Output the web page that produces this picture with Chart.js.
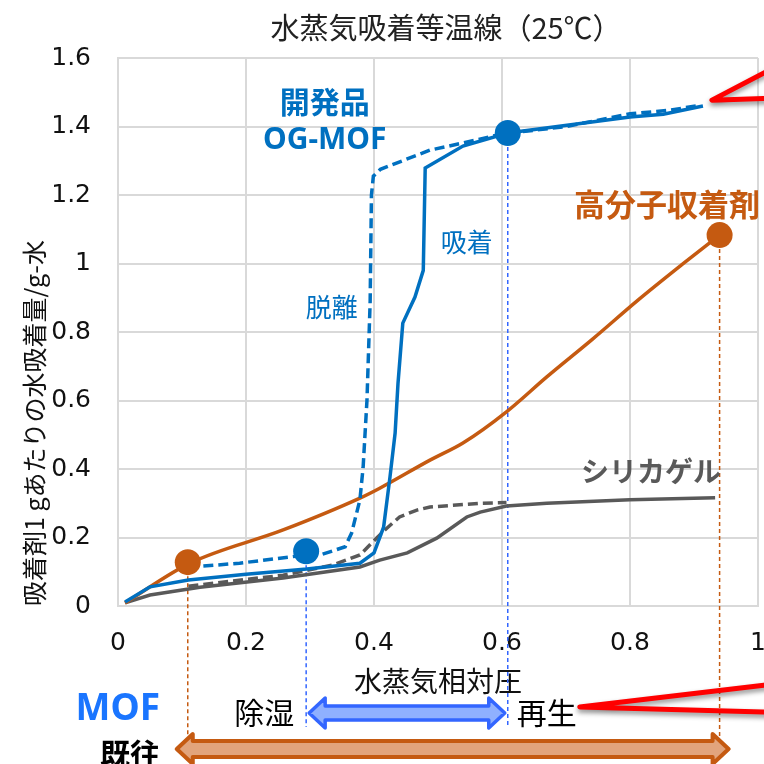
<!DOCTYPE html>
<html>
<head>
<meta charset="utf-8">
<style>
  html, body { margin: 0; padding: 0; background: #fff; overflow: hidden; }
  #wrap { width: 800px; height: 764px; }
</style>
<script src="https://cdn.jsdelivr.net/npm/chart.js@4/dist/chart.umd.min.js"></script>
</head>
<body>
<div id="wrap"><canvas id="chart" width="800" height="764"></canvas></div>
<script>
const JP = '"Noto Sans CJK JP", sans-serif';
const NUM = '"DejaVu Sans", sans-serif';

// OG-MOF 吸着（実線）
const mofAdsX = [0.011, 0.05, 0.11, 0.20, 0.295, 0.378, 0.40, 0.415, 0.425, 0.433, 0.4375, 0.445, 0.464, 0.477, 0.48, 0.539, 0.609, 0.80, 0.852, 0.914];
const mofAdsY = [0.012, 0.056, 0.076, 0.093, 0.108, 0.125, 0.155, 0.23, 0.377, 0.505, 0.65, 0.826, 0.902, 0.98, 1.279, 1.343, 1.381, 1.428, 1.436, 1.46];
// OG-MOF 脱離（破線）
const mofDesX = [0.11, 0.19, 0.29, 0.316, 0.355, 0.365, 0.378, 0.383, 0.389, 0.394, 0.396, 0.399, 0.41, 0.4875, 0.539, 0.60, 0.70, 0.80, 0.86, 0.91];
const mofDesY = [0.113, 0.125, 0.148, 0.149, 0.173, 0.213, 0.31, 0.405, 0.60, 0.89, 1.2, 1.255, 1.275, 1.331, 1.352, 1.378, 1.40, 1.437, 1.447, 1.462];
// 高分子収着剤
const polyX = [0.011, 0.1125, 0.258, 0.378, 0.409, 0.4875, 0.539, 0.607, 0.67, 0.742, 0.8125, 0.88, 0.94];
const polyY = [0.009, 0.125, 0.222, 0.315, 0.344, 0.426, 0.476, 0.567, 0.669, 0.78, 0.893, 0.995, 1.083];
// シリカゲル 吸着（実線）
const silAdsX = [0.011, 0.05, 0.128, 0.258, 0.378, 0.409, 0.452, 0.498, 0.545, 0.566, 0.607, 0.67, 0.80, 0.933];
const silAdsY = [0.009, 0.032, 0.055, 0.082, 0.114, 0.134, 0.155, 0.198, 0.26, 0.274, 0.292, 0.30, 0.31, 0.316];
// シリカゲル 脱離（破線）
const silDesX = [0.11, 0.258, 0.336, 0.378, 0.405, 0.417, 0.44, 0.467, 0.4875, 0.566, 0.607];
const silDesY = [0.058, 0.09, 0.12, 0.149, 0.20, 0.222, 0.26, 0.28, 0.289, 0.30, 0.302];
// 運転点（除湿・再生）
const mofPtX = [0.294, 0.609];
const mofPtY = [0.16, 1.381];
const polyPtX = [0.109, 0.94];
const polyPtY = [0.128, 1.083];

const xTicks = [0, 0.2, 0.4, 0.6, 0.8, 1];
const yTicks = [0, 0.2, 0.4, 0.6, 0.8, 1, 1.2, 1.4, 1.6];

const BLUE = '#0070C0';
const ORANGE = '#C55A11';
const GRAY = '#595959';

const pts = (xs, ys) => xs.map((x, i) => ({ x: x, y: ys[i] }));

// 図中の文字ラベル（データ座標）
const labels = [
  { text: '開発品', x: 0.323, y: 1.474, color: BLUE, font: 'bold 30px ' + JP },
  { text: 'OG-MOF', x: 0.323, y: 1.36, color: BLUE, font: 'bold 30px "Noto Sans", sans-serif' },
  { text: '脱離', x: 0.334, y: 0.873, color: BLUE, font: '26px ' + JP },
  { text: '吸着', x: 0.545, y: 1.063, color: BLUE, font: '26px ' + JP },
  { text: '高分子収着剤', x: 0.858, y: 1.174, color: ORANGE, font: 'bold 31px ' + JP },
  { text: 'シリカゲル', x: 0.833, y: 0.394, color: GRAY, font: 'bold 28px ' + JP }
];

function doubleArrow(ctx, x1, x2, y, shaftH, headH, headL, fill, stroke, lw) {
  ctx.beginPath();
  ctx.moveTo(x1, y);
  ctx.lineTo(x1 + headL, y - headH / 2);
  ctx.lineTo(x1 + headL, y - shaftH / 2);
  ctx.lineTo(x2 - headL, y - shaftH / 2);
  ctx.lineTo(x2 - headL, y - headH / 2);
  ctx.lineTo(x2, y);
  ctx.lineTo(x2 - headL, y + headH / 2);
  ctx.lineTo(x2 - headL, y + shaftH / 2);
  ctx.lineTo(x1 + headL, y + shaftH / 2);
  ctx.lineTo(x1 + headL, y + headH / 2);
  ctx.closePath();
  ctx.fillStyle = fill;
  ctx.fill();
  ctx.lineJoin = 'round';
  ctx.lineWidth = lw;
  ctx.strokeStyle = stroke;
  ctx.stroke();
}

function callout(ctx, tx, ty, ux, uy, lx, ly) {
  ctx.save();
  ctx.shadowColor = 'rgba(0,0,0,0.45)';
  ctx.shadowBlur = 5;
  ctx.shadowOffsetY = 3;
  ctx.strokeStyle = '#FF0000';
  ctx.lineWidth = 5;
  ctx.lineCap = 'round';
  ctx.lineJoin = 'round';
  ctx.beginPath();
  ctx.moveTo(ux, uy);
  ctx.lineTo(tx, ty);
  ctx.lineTo(lx, ly);
  ctx.stroke();
  ctx.restore();
}

const extras = {
  id: 'extras',
  beforeDatasetsDraw(chart) {
    const ctx = chart.ctx;
    const xs = chart.scales.x, ys = chart.scales.y;
    const bottom = chart.chartArea.bottom;
    ctx.save();
    ctx.lineWidth = 1.5;
    // 運転点からの垂線
    ctx.setLineDash([4, 3]);
    ctx.strokeStyle = ORANGE;
    polyPtX.forEach((x, i) => {
      const px = xs.getPixelForValue(x);
      ctx.beginPath();
      ctx.moveTo(px, ys.getPixelForValue(polyPtY[i]));
      ctx.lineTo(px, bottom + 131);
      ctx.stroke();
    });
    ctx.strokeStyle = '#3366FF';
    mofPtX.forEach((x, i) => {
      const px = xs.getPixelForValue(x);
      ctx.beginPath();
      ctx.moveTo(px, ys.getPixelForValue(mofPtY[i]));
      ctx.lineTo(px, bottom + 121);
      ctx.stroke();
    });
    ctx.restore();
  },
  afterDraw(chart) {
    const ctx = chart.ctx;
    const xs = chart.scales.x, ys = chart.scales.y;
    const area = chart.chartArea;
    const bottom = area.bottom;

    ctx.save();
    // タイトル（プロット領域の中央）
    ctx.textAlign = 'center';
    ctx.textBaseline = 'middle';
    ctx.font = '29px ' + JP;
    ctx.fillStyle = '#222';
    ctx.fillText('水蒸気吸着等温線（25℃）', (area.left + area.right) / 2 + 8, area.top - 30);

    labels.forEach(l => {
      ctx.font = l.font;
      ctx.fillStyle = l.color;
      ctx.fillText(l.text, xs.getPixelForValue(l.x), ys.getPixelForValue(l.y));
    });

    const b1 = xs.getPixelForValue(mofPtX[0]);
    const b2 = xs.getPixelForValue(mofPtX[1]);
    const o1 = xs.getPixelForValue(polyPtX[0]);
    const o2 = xs.getPixelForValue(polyPtX[1]);

    // MOF の運転範囲
    ctx.textAlign = 'right';
    ctx.font = 'bold 37px "Noto Sans", sans-serif';
    ctx.fillStyle = '#1A75FF';
    ctx.fillText('MOF', area.left + 42, bottom + 103);
    ctx.font = '30px ' + JP;
    ctx.fillStyle = '#000';
    ctx.fillText('除湿', b1 - 12, bottom + 107);
    ctx.textAlign = 'left';
    ctx.fillText('再生', b2 + 9, bottom + 107);
    doubleArrow(ctx, b1 + 3, b2 - 3, bottom + 107, 14, 30, 16, '#8FB0FF', '#3366FF', 3.5);

    // 既往材の運転範囲
    ctx.textAlign = 'right';
    ctx.font = 'bold 30px ' + JP;
    ctx.fillStyle = '#000';
    ctx.fillText('既往', area.left + 42, bottom + 148);
    doubleArrow(ctx, o1 - 11, o2 + 9, bottom + 143, 16, 30, 16, '#E2A47C', ORANGE, 4);

    // 赤い引き出し線
    const t1x = xs.getPixelForValue(0.928), t1y = ys.getPixelForValue(1.477);
    callout(ctx, t1x, t1y, t1x + 90, t1y - 47, t1x + 90, t1y - 3);
    const t2x = b2 + 72, t2y = bottom + 101;
    callout(ctx, t2x, t2y, t2x + 220, t2y - 26, t2x + 220, t2y + 6);
    ctx.restore();
  }
};

const line = (label, xs, ys, color, dash, extra) => Object.assign({
  label: label,
  data: pts(xs, ys),
  showLine: true,
  borderColor: color,
  borderWidth: 3.5,
  borderDash: dash,
  pointRadius: 0,
  tension: 0,
  fill: false
}, extra || {});

const marker = (label, xs, ys, color) => ({
  label: label,
  data: pts(xs, ys),
  showLine: false,
  pointRadius: 13,
  pointBackgroundColor: color,
  pointBorderColor: color,
  pointBorderWidth: 0
});

new Chart(document.getElementById('chart'), {
  type: 'scatter',
  data: {
    datasets: [
      marker('高分子 運転点', polyPtX, polyPtY, ORANGE),
      marker('MOF 運転点', mofPtX, mofPtY, BLUE),
      line('OG-MOF 吸着', mofAdsX, mofAdsY, BLUE, []),
      line('OG-MOF 脱離', mofDesX, mofDesY, BLUE, [10, 5]),
      line('高分子収着剤', polyX, polyY, ORANGE, [], { cubicInterpolationMode: 'monotone' }),
      line('シリカゲル 脱離', silDesX, silDesY, GRAY, [10, 5]),
      line('シリカゲル 吸着', silAdsX, silAdsY, GRAY, [])
    ]
  },
  options: {
    responsive: false,
    animation: false,
    layout: { padding: { left: 0, right: 42, top: 58, bottom: 66 } },
    plugins: {
      legend: { display: false },
      tooltip: { enabled: false },
      title: { display: false }
    },
    scales: {
      x: {
        type: 'linear',
        min: 0,
        max: 1,
        afterBuildTicks: s => { s.ticks = xTicks.map(v => ({ value: v })); },
        afterFit: s => { s.height = 92; },
        grid: { color: '#D9D9D9', lineWidth: 2, drawTicks: false },
        border: { color: '#D9D9D9', width: 2 },
        ticks: { color: '#111', font: { family: NUM, size: 25 }, padding: 22, maxRotation: 0, callback: v => String(v) },
        title: {
          display: true,
          text: '水蒸気相対圧',
          color: '#111',
          font: { family: JP, size: 28, lineHeight: 1.2 },
          padding: { top: 0, bottom: 0 }
        }
      },
      y: {
        type: 'linear',
        min: 0,
        max: 1.6,
        afterBuildTicks: s => { s.ticks = yTicks.map(v => ({ value: v })); },
        afterFit: s => { s.width = 118; },
        grid: { color: '#D9D9D9', lineWidth: 2, drawTicks: false },
        border: { color: '#D9D9D9', width: 2 },
        ticks: { color: '#111', font: { family: NUM, size: 25 }, padding: 27, callback: v => String(v) },
        title: {
          display: true,
          text: '吸着剤1 gあたりの水吸着量/g-水',
          align: 'start',
          color: '#111',
          font: { family: JP, size: 25, lineHeight: 1.2 },
          padding: { top: 19, bottom: 0 }
        }
      }
    }
  },
  plugins: [extras]
});
</script>
</body>
</html>
